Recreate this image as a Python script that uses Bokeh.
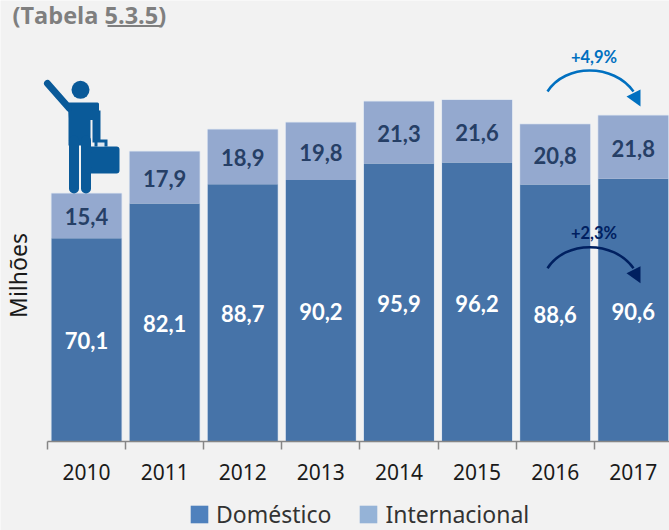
from math import pi
from bokeh.embed import file_html
from bokeh.resources import INLINE
from bokeh.plotting import figure
from bokeh.models import ColumnDataSource, FixedTicker, Label, Legend, LegendItem, LinearAxis
from bokeh.core.properties import value

years = ["2010", "2011", "2012", "2013", "2014", "2015", "2016", "2017"]
domestico = [70.1, 82.1, 88.7, 90.2, 95.9, 96.2, 88.6, 90.6]
internacional = [15.4, 17.9, 18.9, 19.8, 21.3, 21.6, 20.8, 21.8]

BG = "#F2F2F2"
W, H = 669, 530
LEFT, BASE = 47.0, 441.0      # px of first boundary / zero line
STEP, UNIT = 78.1, 2.9        # px per category / per million


def X(px):
    return (px - LEFT) / STEP - 0.5


def Y(py):
    return (BASE - py) / UNIT


p = figure(width=W, height=H, output_backend="svg", toolbar_location=None,
           x_range=(X(0), X(W)), y_range=(Y(H), Y(0)),
           x_axis_location=None, y_axis_location=None,
           min_border=0, background_fill_color=BG, border_fill_color=BG, outline_line_color=None)
p.xgrid.visible = False
p.ygrid.visible = False

xs = list(range(len(years)))
tops = [a + b for a, b in zip(domestico, internacional)]
src = ColumnDataSource(dict(x=xs, dom=domestico, intl=internacional, top=tops,
                            dom_mid=[a / 2 for a in domestico],
                            int_mid=[a + b / 2 for a, b in zip(domestico, internacional)],
                            dom_txt=[f"{v:.1f}".replace(".", ",") for v in domestico],
                            int_txt=[f"{v:.1f}".replace(".", ",") for v in internacional]))

BW = 70 / STEP
p.vbar(x="x", bottom=0, top="top", width=BW, source=src, fill_color=None,
       line_color="#DDE5F0", line_width=1.5)
p.vbar(x="x", bottom=0, top="dom", width=BW, source=src, fill_color="#4673A8", line_color=None)
p.vbar(x="x", bottom="dom", top="top", width=BW, source=src, fill_color="#94A9CF", line_color=None)

p.text(x="x", y="dom_mid", text="dom_txt", source=src, text_color="white", y_offset=1,
       text_font=value("Lato"), text_font_style="bold", text_font_size="22px",
       text_align="center", text_baseline="middle")
p.text(x="x", y="int_mid", text="int_txt", source=src, text_color="#263F66", y_offset=1,
       text_font=value("Lato"), text_font_style="bold", text_font_size="22px",
       text_align="center", text_baseline="middle")

# axis: labels at bar centres, ticks at category boundaries
ax = LinearAxis(ticker=FixedTicker(ticks=xs, minor_ticks=[i - 0.5 for i in range(len(years) + 1)]),
                major_label_overrides={i: y for i, y in enumerate(years)},
                fixed_location=0, bounds=(-0.5, 7.5))
ax.axis_line_color = "#868686"
ax.axis_line_width = 1.5
ax.major_tick_line_color = None
ax.major_tick_out = 0
ax.major_tick_in = 0
ax.minor_tick_line_color = "#868686"
ax.minor_tick_line_width = 1.5
ax.minor_tick_out = 8
ax.minor_tick_in = 0
ax.major_label_standoff = 14
ax.major_label_text_font = "Noto Sans"
ax.major_label_text_font_size = "21px"
ax.major_label_text_color = "#1A1A1A"
p.add_layout(ax, "below")

# legend (swatches come from off-canvas quads, so only their styling is used)
off = [X(-200)]
r1 = p.quad(left=off, right=off, top=[0], bottom=[0], fill_color="#4F81BD", line_color=None)
r2 = p.quad(left=off, right=off, top=[0], bottom=[0], fill_color="#95B3D7", line_color=None)
legend = Legend(items=[LegendItem(label="Doméstico", renderers=[r1]),
                       LegendItem(label="Internacional", renderers=[r2])],
                orientation="horizontal", location=(188, 0),
                background_fill_alpha=0, border_line_color=None,
                glyph_width=22, glyph_height=22, label_standoff=6, spacing=26,
                margin=0, padding=0,
                label_text_font="Noto Sans", label_text_font_size="23px",
                label_text_color="#333333")
p.add_layout(legend, "center")

# title and y label
p.text([X(12)], [Y(14.5)], text=["(Tabela 5.3.5)"], text_font=value("Open Sans"),
       text_font_style="bold", text_font_size="23.5px", text_color="#7F7F7F",
       text_align="left", text_baseline="middle")
p.line([X(107), X(161)], [Y(25.5), Y(25.5)], line_color="#7F7F7F", line_width=2)
p.add_layout(Label(x=X(17), y=Y(275), text="Milhões", angle=pi / 2, text_font="Noto Sans",
                   text_font_size="23px", text_color="#1A1A1A",
                   text_align="center", text_baseline="middle"))

# traveller pictogram
C = "#0A5A99"
p.scatter([X(80)], [Y(89.3)], marker="circle", size=18, fill_color=C, line_color=None)
p.line([X(47), X(69)], [Y(83), Y(108)], line_color=C, line_width=7, line_cap="round")
p.patch([X(69), X(97), X(97), X(70)], [Y(103.5), Y(103.5), Y(118), Y(118)],
        fill_color=C, line_color=C, line_width=3, line_join="round")
p.quad(left=[X(68)], right=[X(90)], top=[Y(110)], bottom=[Y(145)], fill_color=C, line_color=None)
p.quad(left=[X(92)], right=[X(100)], top=[Y(110)], bottom=[Y(142)], fill_color=C, line_color=None)
for cx in (73.5, 85.5):
    p.line([X(cx), X(cx)], [Y(140), Y(188)], line_color=C, line_width=10, line_cap="round")
p.patch([X(88), X(116), X(116), X(88)], [Y(149), Y(149), Y(170), Y(170)],
        fill_color=C, line_color=C, line_width=6, line_join="round")
p.quad(left=[X(94)], right=[X(107)], top=[Y(139)], bottom=[Y(146)], fill_color=C, line_color=None)
p.quad(left=[X(97)], right=[X(104)], top=[Y(142)], bottom=[Y(146)], fill_color="#DCE6F0", line_color=None)

# growth arrows
for dy, col, txt in ((0, "#0070C0", "+4,9%"), (176.7, "#002060", "+2,3%")):
    p.bezier(x0=[X(547)], y0=[Y(91 + dy)], x1=[X(633)], y1=[Y(91 + dy)],
             cx0=[X(565)], cy0=[Y(63 + dy)], cx1=[X(613)], cy1=[Y(63 + dy)],
             line_color=col, line_width=2.5)
    p.patch([X(640), X(626), X(640)], [Y(89 + dy), Y(96 + dy), Y(106 + dy)],
            fill_color=col, line_color=None)
    p.text([X(593.5)], [Y(56 + dy)], text=[txt], text_color=col, text_font=value("Lato"),
           text_font_style="bold", text_font_size="16.5px",
           text_align="center", text_baseline="middle")

html = file_html(p, INLINE)
html = html.replace("<body>", f'<body style="background:{BG};margin:0;overflow:hidden">', 1)
open("out.html", "w").write(html)
